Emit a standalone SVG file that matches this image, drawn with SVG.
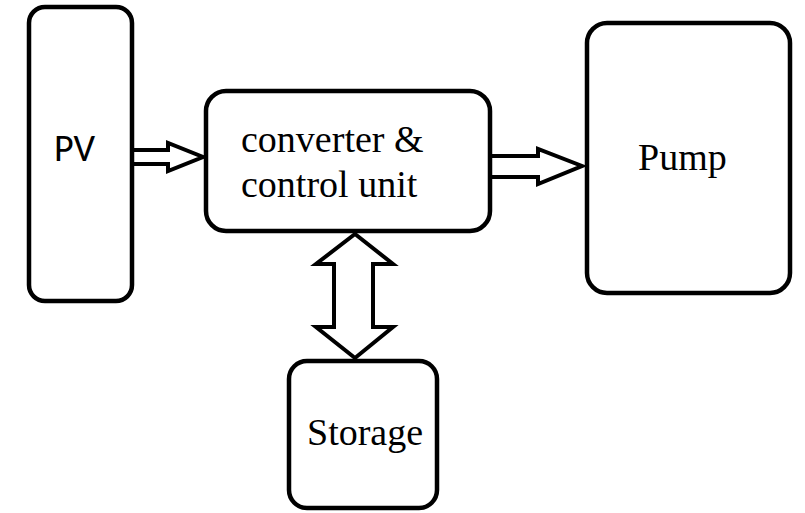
<svg xmlns="http://www.w3.org/2000/svg" width="805" height="513" viewBox="0 0 805 513">
<style>
.box{fill:#fff;stroke:#000;stroke-width:4.5}
.arr{fill:#fff;stroke:#000;stroke-width:4;stroke-linejoin:miter}
.serif{font-family:"Liberation Serif","Times New Roman",serif;font-size:38px;fill:#000}
.sans{font-family:Carlito,"Liberation Sans",Arial,sans-serif;font-size:38px;fill:#000}
</style>
<rect width="805" height="513" fill="#fff"/>
<g id="connectors">
<polygon class="arr" points="131,150 168,150 168,143 203,157 168,171 168,164 131,164"/>
<polygon class="arr" points="490,156 538,156 538,149 582,166 538,184 538,177 490,177"/>
<polygon class="arr" points="355,234 393,264 373,264 373,327 393,327 355,358 316,327 334,327 334,264 316,264"/>
</g>
<g id="pv">
<rect class="box" x="29" y="7" width="103" height="294" rx="16"/>
<text class="sans" x="54" y="161">PV</text>
</g>
<g id="converter">
<rect class="box" x="206" y="91" width="284" height="140" rx="20"/>
<text class="serif" x="241" y="152">converter &amp;</text>
<text class="serif" x="241" y="197">control unit</text>
</g>
<g id="pump">
<rect class="box" x="587" y="23" width="203" height="270" rx="20"/>
<text class="serif" x="638" y="170">Pump</text>
</g>
<g id="storage">
<rect class="box" x="289" y="361" width="148" height="147" rx="18"/>
<text class="serif" x="307" y="445">Storage</text>
</g>
</svg>
